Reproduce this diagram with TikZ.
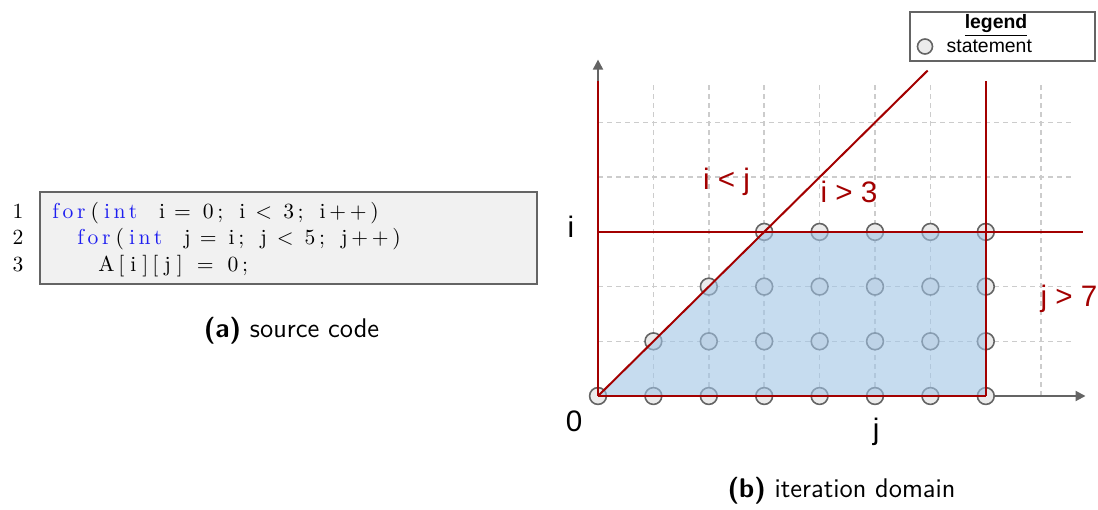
\documentclass[tikz,border=0pt]{standalone}
\usepackage{fontspec}
\usepackage{xcolor}
\usetikzlibrary{arrows.meta, positioning, calc}
\newfontfamily\labelfont{Liberation Sans}
\newfontfamily\codefont[LetterSpace=17]{Latin Modern Roman}
\definecolor{ConstraintRed}{RGB}{163, 0, 0}
\definecolor{DomainBlue}{RGB}{160, 196, 229}
\definecolor{GridGray}{RGB}{204, 204, 204}
\definecolor{PointGray}{RGB}{235, 235, 235}
\definecolor{EdgeGray}{RGB}{100, 100, 100}
\definecolor{CodeBg}{RGB}{241, 241, 241}
\definecolor{KeywordBlue}{RGB}{30, 30, 240}
\tikzset{
  gridline/.style={GridGray, line width=0.8pt, dash pattern=on 2.5pt off 2pt},
  constraint/.style={ConstraintRed, line width=1pt},
  axisline/.style={EdgeGray, line width=1pt, -{Triangle[length=5pt, width=5pt]}},
  point/.style={circle, draw=EdgeGray, fill=PointGray, line width=0.8pt, minimum size=8.4pt, inner sep=0pt},
  bound/.style={ConstraintRed, anchor=base, inner sep=0pt, font=\labelfont\fontsize{14.8}{17}\selectfont},
  axislabel/.style={black, anchor=base, inner sep=0pt, font=\labelfont\fontsize{14.8}{17}\selectfont},
  codeline/.style={anchor=base west, inner sep=0pt, font=\codefont\fontsize{10.8}{13}\selectfont},
  caption/.style={anchor=base, inner sep=0pt, font=\sffamily\fontsize{13.5}{16}\selectfont},
}
\newcommand{\kw}[1]{\textcolor{KeywordBlue}{#1}\hspace{2.5pt}}
\newcommand{\gap}[1]{\hspace{#1pt}}

\begin{document}
\begin{tikzpicture}[x=0.5pt, y=-0.5pt]
  \useasboundingbox (0,0) rectangle (1098,509);

  % (a) source code
  \node[draw=EdgeGray, fill=CodeBg, line width=1pt, minimum width=248.5pt, minimum height=46pt, inner sep=0pt] (code) at (288.5,238) {};
  \foreach \n/\y in {1/218, 2/244.5, 3/271}
    \node[anchor=base, inner sep=0pt, font=\fontsize{10.8}{13}\selectfont] (num\n) at (18,\y) {\n};
  \node[codeline] (line1) at (52,218) {\kw{for}(\gap{2.5}\kw{int}\gap{8.5}i\gap{4.5}=\gap{6}0;\gap{8}i\gap{5}<\gap{5.5}3;\gap{8}i++)};
  \node[codeline] (line2) at (77,244.5) {\kw{for}(\gap{2.5}\kw{int}\gap{8.5}j\gap{4.5}=\gap{6}i;\gap{8}j\gap{5}<\gap{5.5}5;\gap{8}j++)};
  \node[codeline] (line3) at (98,271) {A[\gap{3}i\gap{3}]\gap{2}[\gap{3}j\gap{3}]\gap{7}=\gap{7}0;};
  \node[caption] (capa) at (291.5,337) {\textbf{(a)} source code};

  % (b) iteration domain
  \begin{scope}[shift={(299pt,-198pt)}, x=27.7pt, y=27.35pt]
    \foreach \j in {1,...,8}
      \draw[gridline] (\j,0) -- (\j,5.75);
    \foreach \i in {1,...,5}
      \draw[gridline] (0,\i) -- (8.6,\i);
    \draw[axisline] (0,0) -- (0,6.15);
    \draw[axisline] (0,0) -- (8.8,0);
    \foreach \i in {0,...,3}
      \foreach \j in {\i,...,7}
        \node[point] (p\j\i) at (\j,\i) {};
    \fill[DomainBlue, fill opacity=0.6] (0,0) -- (3,3) -- (7,3) -- (7,0) -- cycle;
    \draw[constraint] (0,0) -- (0,5.75);
    \draw[constraint] (0,0) -- (7,0);
    \draw[constraint] (0,3) -- (8.75,3);
    \draw[constraint] (7,0) -- (7,5.75);
    \draw[constraint] (0,0) -- (5.95,5.95);
    \node[bound] (ltj) at (2.32,3.78) {i < j};
    \node[bound] (gti) at (4.53,3.53) {i > 3};
    \node[bound] (gtj) at (8.5,1.63) {j > 7};
    \node[axislabel] (ilabel) at (-0.49,2.89) {i};
    \node[axislabel] (olabel) at (-0.43,-0.65) {0};
    \node[axislabel] (jlabel) at (5.02,-0.80) {j};
  \end{scope}
  \node[caption] (capb) at (841.5,497) {\textbf{(b)} iteration domain};

  % legend
  \node[draw=EdgeGray, line width=1pt, minimum width=92.5pt, minimum height=24.5pt, inner sep=0pt] (legend) at (1002.5,36) {};
  \node[anchor=base, inner sep=0pt, font=\labelfont\bfseries\fontsize{9.7}{11}\selectfont] (legendtitle) at (996,28) {\underline{legend}};
  \node[point, minimum size=7.5pt] (legendpoint) at (925,46.5) {};
  \node[right=6.5pt of legendpoint, inner sep=0pt, font=\labelfont\fontsize{9.7}{11}\selectfont] (legendtext) {statement};
\end{tikzpicture}
\end{document}
